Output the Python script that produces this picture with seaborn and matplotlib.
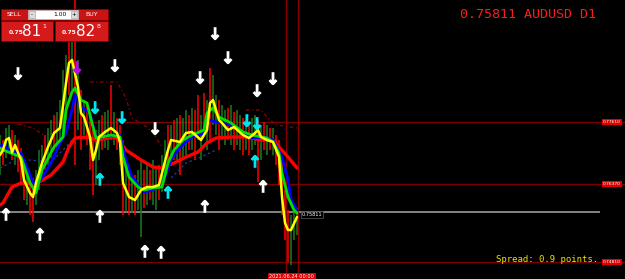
import numpy as np
import matplotlib
matplotlib.use('Agg')
import matplotlib.pyplot as plt
import seaborn as sns
from matplotlib.path import Path
from matplotlib.patches import Rectangle

# ---------------- data (prices in pips: value / 10000) ----------------
days = list(range(100))
bar_high = [7735, 7725, 7749, 7755, 7745, 7735, 7725, 7709, 7685, 7665,
            7655, 7649, 7665, 7705, 7715, 7735, 7749, 7765, 7775, 7781,
            7805, 7865, 7895, 7965, 7985, 8005, 7885, 7825, 7805, 7795,
            7775, 7745, 7745, 7765, 7775, 7781, 7785, 7835, 7781, 7769,
            7755, 7725, 7685, 7655, 7645, 7655, 7665, 7685, 7665, 7675,
            7665, 7685, 7669, 7675, 7695, 7725, 7755, 7755, 7765, 7769,
            7775, 7769, 7785, 7775, 7789, 7785, 7815, 7775, 7819, 7805,
            7869, 7855, 7815, 7805, 7795, 7785, 7789, 7795, 7781, 7785,
            7775, 7769, 7765, 7761, 7769, 7775, 7765, 7755, 7761, 7755,
            7749, 7749, 7735, 7725, 7685, 7625, 7585, 7575, 7585, 7589]
bar_low = [7655, 7675, 7689, 7705, 7685, 7675, 7661, 7635, 7605, 7595,
           7575, 7561, 7595, 7625, 7645, 7665, 7675, 7689, 7705, 7709,
           7715, 7735, 7765, 7815, 7825, 7675, 7745, 7705, 7735, 7715,
           7665, 7615, 7635, 7685, 7705, 7709, 7705, 7725, 7715, 7705,
           7675, 7575, 7581, 7575, 7579, 7575, 7585, 7531, 7589, 7595,
           7605, 7595, 7585, 7605, 7621, 7655, 7665, 7685, 7685, 7685,
           7655, 7685, 7695, 7705, 7705, 7685, 7725, 7685, 7731, 7705,
           7725, 7755, 7735, 7705, 7725, 7715, 7725, 7715, 7705, 7715,
           7705, 7695, 7705, 7695, 7705, 7715, 7641, 7685, 7705, 7695,
           7705, 7695, 7675, 7635, 7575, 7525, 7481, 7475, 7525, 7535]
bar_dir = ("grggrgrrrg" "rrgggrggrg" "gggrgrgrgr" "rrggrggrgr" "rrgrgrggrg"
           "rggrggrgrg" "rggrgrrgrg" "rggrggrgrg" "grgrggrgrg" "rgrrrrrggg")

fast_day = [0, 1, 2, 3, 4, 5, 7, 8, 10, 11, 12, 14, 16, 18, 20, 22, 23, 24, 26, 27,
            28, 30, 31, 32, 33, 35, 37, 39, 40, 41, 43, 45, 47, 49, 51, 53, 54, 56,
            57, 60, 62, 64, 67, 69, 70, 71, 73, 74, 76, 78, 81, 83, 85, 86, 87, 89,
            91, 93, 94, 95, 96, 97, 99]
fast_val = [7695, 7705, 7725, 7729, 7700, 7715, 7685, 7645, 7619, 7611, 7639, 7679,
            7711, 7739, 7749, 7839, 7879, 7885, 7831, 7779, 7771, 7731, 7685, 7705,
            7731, 7741, 7749, 7739, 7721, 7639, 7611, 7605, 7625, 7631, 7631, 7635,
            7659, 7705, 7725, 7721, 7739, 7741, 7725, 7745, 7799, 7805, 7765, 7759,
            7745, 7751, 7735, 7729, 7739, 7745, 7731, 7725, 7721, 7691, 7611, 7559,
            7545, 7545, 7571]

mid_day = [0, 1, 7, 10, 12, 14, 18, 21, 22, 24, 25, 27, 29, 31, 32, 34, 37, 40, 41,
           43, 46, 48, 51, 54, 56, 58, 61, 64, 68, 69, 71, 73, 77, 81, 84, 89, 91,
           93, 94, 96, 98, 99]
mid_val = [7709, 7705, 7691, 7639, 7619, 7665, 7711, 7731, 7785, 7821, 7829, 7805,
           7799, 7751, 7729, 7731, 7735, 7731, 7691, 7651, 7631, 7625, 7629, 7631,
           7679, 7705, 7725, 7735, 7745, 7779, 7789, 7771, 7759, 7741, 7735, 7729,
           7721, 7699, 7659, 7611, 7585, 7579]

slow_day = [0, 1, 3, 7, 11, 12, 17, 20, 22, 24, 25, 27, 30, 32, 34, 38, 40, 42,
            44, 48, 51, 54, 57, 60, 64, 68, 69, 72, 77, 81, 84, 88, 91, 94, 96, 97, 99]
slow_val = [7713, 7715, 7705, 7699, 7641, 7631, 7679, 7719, 7739, 7785, 7815, 7791,
            7779, 7731, 7731, 7735, 7735, 7685, 7651, 7621, 7625, 7635, 7685,
            7711, 7731, 7739, 7765, 7761, 7755, 7741, 7729, 7731, 7725, 7691, 7645,
            7605, 7585]

trend_day = [0, 1, 4, 7, 12, 17, 21, 23, 25, 29, 32, 38, 39, 42, 47, 51, 54, 58,
             62, 66, 69, 72, 77, 82, 87, 91, 93, 96, 99]
trend_val = [7595, 7599, 7631, 7639, 7637, 7655, 7681, 7711, 7729, 7731, 7725,
             7731, 7729, 7705, 7685, 7671, 7669, 7679, 7691, 7701, 7719, 7729,
             7731, 7731, 7725, 7725, 7711, 7691, 7669]

upper_band = [([6, 11, 15], [7757, 7749, 7733]),
              ([30, 39, 42, 44, 49, 51, 54], [7841, 7841, 7809, 7769, 7751, 7739, 7711]),
              ([82, 87, 89, 92, 99], [7785, 7785, 7771, 7755, 7749])]
lower_band = [([0, 4, 10, 17, 22, 24], [7669, 7681, 7685, 7681, 7711, 7725]),
              ([57, 62, 67, 72], [7649, 7679, 7691, 7705])]

white_down = ([6, 38.3, 71.7, 76, 66.7, 51.7, 85.7, 91],
              [7859, 7875, 7939, 7891, 7851, 7749, 7825, 7849])
cyan_down = ([31.7, 40.7, 82.3, 85.7], [7791, 7771, 7765, 7759])
magenta_down = ([25.7], [7871])
cyan_up = ([33.3, 56, 85], [7645, 7619, 7681])
white_up = ([2, 13.3, 33.3, 68.3, 48.3, 53.7, 87.7],
            [7575, 7535, 7571, 7591, 7501, 7499, 7631])

levels = [7761, 7637, 7481]
level_labels = ["0.77610", "0.76370", "0.74810"]
bid = 0.75811
cursor_days = [95.3, 99.3]
symbol_text = "0.75811 AUDUSD D1"
spread_text = "Spread: 0.9 points."
time_label = "2021.06.24 00:00"

# ---------------- drawing ----------------
sns.set_style('dark')
plt.rcParams['font.family'] = ['DejaVu Sans']

W, H = 625, 279
fig = plt.figure(figsize=(W / 100, H / 100), dpi=100, facecolor='black')
ax = fig.add_axes([0, 0, 1, 1])
ax.set_facecolor('black')
ax.set_xlim(0, W / 3)
ax.set_ylim(0.7447, 0.8005)
ax.axis('off')

p = lambda v: np.asarray(v, dtype=float) / 1e4

# level lines
for lv in levels:
    ax.axhline(lv / 1e4, color='#7a0000', lw=1, zorder=1)
ax.hlines(bid, 0, 600 / 3, color='#9a9a9a', lw=1.2, zorder=1)
for cd in cursor_days:
    ax.axvline(cd, color='#8a0000', lw=1, zorder=1)

# bars
cols = ['#ff0000' if c == 'r' else '#1c7a1c' for c in bar_dir]
ax.vlines(days, p(bar_low), p(bar_high), colors=cols, lw=1.1, zorder=2)

# dotted bands
for dx, dv in upper_band:
    ax.plot(dx, p(dv), color='#8b0000', lw=0.9, ls=(0, (3, 2, 1, 2)), zorder=2)
for dx, dv in lower_band:
    ax.plot(dx, p(dv), color='#1f3f8a', lw=0.9, ls=(0, (2, 2)), zorder=2)

# moving averages
sns.lineplot(x=trend_day, y=p(trend_val), ax=ax, color='#ff0000', lw=2.4,
             estimator=None, sort=False, zorder=3)
sns.lineplot(x=slow_day, y=p(slow_val), ax=ax, color='#0000ff', lw=2.0,
             estimator=None, sort=False, zorder=4)
sns.lineplot(x=mid_day, y=p(mid_val), ax=ax, color='#00e000', lw=2.0,
             estimator=None, sort=False, zorder=5)
sns.lineplot(x=fast_day, y=p(fast_val), ax=ax, color='#ffff00', lw=1.8,
             estimator=None, sort=False, zorder=6)

# arrows
down_path = Path([(0, 1), (0, -1), (-0.6, -0.35), (0, -1), (0.6, -0.35)],
                 [Path.MOVETO, Path.LINETO, Path.MOVETO, Path.LINETO, Path.LINETO])
up_path = Path([(0, -1), (0, 1), (-0.6, 0.35), (0, 1), (0.6, 0.35)],
               [Path.MOVETO, Path.LINETO, Path.MOVETO, Path.LINETO, Path.LINETO])
for (xs, ys), mk, col in [(white_down, down_path, 'white'),
                          (cyan_down, down_path, '#00e5ee'),
                          (magenta_down, down_path, '#c000ff'),
                          (cyan_up, up_path, '#00e5ee'),
                          (white_up, up_path, 'white')]:
    ax.scatter(xs, p(ys), marker=mk, s=70, facecolors='none', edgecolors=col,
               linewidths=2.0, zorder=8)

# price labels on the right
for lv, lab in zip(levels, level_labels):
    ax.text(603 / W, lv / 1e4, lab, transform=ax.get_yaxis_transform(),
            fontsize=3.2, color='white', va='center', ha='left', zorder=9,
            bbox=dict(facecolor='#e00000', edgecolor='none', pad=0.9))
ax.text(100.5, bid, "0.75811", fontsize=3.6, color='white', va='top', ha='left',
        zorder=9, bbox=dict(facecolor='black', edgecolor='#777777', lw=0.4, pad=0.5))

# time label at bottom
ax.text(97.3, 2.3 / H, time_label, transform=ax.get_xaxis_transform(),
        fontsize=3.6, color='white', ha='center', va='center', zorder=9,
        bbox=dict(facecolor='#e00000', edgecolor='none', pad=0.9))

# header texts
fig.text(596 / W, 1 - 14 / H, symbol_text, color='#ff1a1a', fontsize=9.5,
         family='DejaVu Sans Mono', ha='right', va='center')
fig.text(598 / W, 1 - 259 / H, spread_text, color='#e6e600', fontsize=6.5,
         family='DejaVu Sans Mono', ha='right', va='center')

# one-click trading panel
def fx(x):
    return x / W
def fy(y):
    return 1 - y / H
panel = [
    (1, 9, 107, 11, '#c81414'),
    (1, 21, 52, 20, '#d41a1a'),
    (55, 21, 53, 20, '#d41a1a'),
]
for x0, y0, w, h, c in panel:
    fig.patches.append(Rectangle((fx(x0), fy(y0 + h)), w / W, h / H,
                                 transform=fig.transFigure, facecolor=c,
                                 edgecolor='#8a0000', lw=0.6, zorder=20))
fig.patches.append(Rectangle((fx(28), fy(19)), 50 / W, 9 / H, transform=fig.transFigure,
                             facecolor='white', edgecolor='#bbbbbb', lw=0.5, zorder=21))
for bx in (29, 71):
    fig.patches.append(Rectangle((fx(bx), fy(18)), 6 / W, 7 / H, transform=fig.transFigure,
                                 facecolor='#dddddd', edgecolor='#999999', lw=0.4, zorder=22))
fig.text(fx(32), fy(14.5), '-', fontsize=4, color='black', ha='center', va='center', zorder=23)
fig.text(fx(74), fy(14.5), '+', fontsize=4, color='black', ha='center', va='center', zorder=23)
fig.text(fx(67), fy(14.5), '1.00', fontsize=4.3, color='black', ha='right', va='center', zorder=23)
fig.text(fx(14), fy(14.5), 'SELL', fontsize=4.5, color='white', ha='center', va='center', zorder=23)
fig.text(fx(92), fy(14.5), 'BUY', fontsize=4.5, color='white', ha='center', va='center', zorder=23)
fig.text(fx(16), fy(33), '0.75', fontsize=4.3, color='white', ha='center', va='center',
         zorder=23, weight='bold')
fig.text(fx(32), fy(31), '81', fontsize=11, color='white', ha='center', va='center', zorder=23)
fig.text(fx(44.5), fy(26), '1', fontsize=4.5, color='white', ha='center', va='center', zorder=23)
fig.text(fx(69), fy(33), '0.75', fontsize=4.3, color='white', ha='center', va='center',
         zorder=23, weight='bold')
fig.text(fx(86), fy(31), '82', fontsize=11, color='white', ha='center', va='center', zorder=23)
fig.text(fx(98.5), fy(26), '8', fontsize=4.5, color='white', ha='center', va='center', zorder=23)

fig.savefig('out.png', dpi=100, facecolor='black')
